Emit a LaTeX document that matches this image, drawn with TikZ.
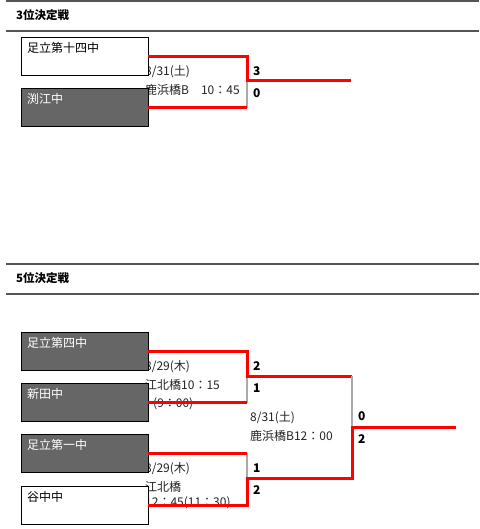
\documentclass[tikz,border=0pt]{standalone}
\usepackage{fontspec}
\setmainfont{Noto Sans CJK JP}
\usetikzlibrary{positioning}
\definecolor{boxgray}{RGB}{102,102,102}
\definecolor{rulegray}{RGB}{85,85,85}
\definecolor{losegray}{RGB}{170,170,170}
\definecolor{infotext}{RGB}{34,34,34}

\begin{document}
\begin{tikzpicture}[
    x=1pt, y=-1pt,
    node distance=13pt,
    team/.style={rectangle, draw, anchor=north west, minimum width=127pt, text width=115pt,
        inner xsep=6pt, inner ysep=3pt, text height=12pt, text depth=20pt, align=left,
        font=\fontsize{12pt}{14pt}\selectfont},
    lost/.style={team, fill=white},
    won/.style={team, fill=boxgray, text=white},
    info/.style={anchor=west, inner sep=0pt, text=infotext, font=\fontsize{12pt}{14pt}\selectfont},
    score/.style={anchor=west, inner sep=0pt, font=\bfseries\fontsize{12pt}{14pt}\selectfont},
    title/.style={anchor=west, inner sep=0pt, font=\bfseries\fontsize{11.5pt}{13pt}\selectfont},
    headline/.style={draw=rulegray, line width=2pt},
    winline/.style={draw=red, line width=3pt},
    loseline/.style={draw=losegray, line width=2pt}
]
    \useasboundingbox (0,0) rectangle (479,529);

    % headings
    \draw[headline] (6,1) -- (479,1);
    \draw[headline] (6,31.5) -- (479,31.5);
    \node[title] (h3) at (16,15) {3位決定戦};
    \draw[headline] (6,264) -- (479,264);
    \draw[headline] (6,293.5) -- (479,293.5);
    \node[title] (h5) at (16,278) {5位決定戦};

    % match info (partly under the boxes)
    \node[info] (d1) at (145,72) {8/31(土)};
    \node[info] (p1) at (145,90) {鹿浜橋B　10：45};
    \node[info] (d2) at (145,367) {8/29(木)};
    \node[info] (p2) at (145,385) {江北橋10：15};
    \node[info] (s2) at (153,404) {(9：00)};
    \node[info] (d3) at (145,469) {8/29(木)};
    \node[info] (p3) at (145,487) {江北橋};
    \node[info] (s3) at (145,503) {12：45(11：30)};
    \node[info] (d4) at (250,418) {8/31(土)};
    \node[info] (p4) at (250,436) {鹿浜橋B12：00};

    % teams
    \node[lost] (t1) at (21,37) {足立第十四中};
    \node[won, below=of t1] (t2) {渕江中};
    \node[won] (t3) at (21,332) {足立第四中};
    \node[won, below=of t3] (t4) {新田中};
    \node[won, below=12pt of t4] (t5) {足立第一中};
    \node[lost, below=14pt of t5] (t6) {谷中中};

    % joints
    \coordinate (m1) at (247,81);
    \coordinate (w1) at (351,81);
    \coordinate (m2) at (247,376);
    \coordinate (m3) at (247,478);
    \coordinate (m4) at (352,427);
    \coordinate (w2) at (456,427);

    % 3rd place
    \draw[loseline] (t2.east -| m1) -- (m1);
    \draw[winline] (t2.east) -- (t2.east -| m1);
    \draw[winline] (t1.east) -| (m1) -- (w1);

    % 5th place
    \draw[loseline] (t4.east -| m2) -- (m2);
    \draw[winline] (t4.east) -- (t4.east -| m2);
    \draw[winline] (t3.east) -| (m2) -- (m2 -| m4);
    \draw[loseline] (t5.east -| m3) -- (m3);
    \draw[winline] (t5.east) -- (t5.east -| m3);
    \draw[loseline] (m2 -| m4) -- (m4);
    \draw[winline] (t6.east) -| (m3) -- (m3 -| m4) -- (m4) -- (w2);

    % scores
    \node[score] (r1) at (253,71) {3};
    \node[score] (r2) at (253,93) {0};
    \node[score] (r3) at (253,366) {2};
    \node[score] (r4) at (253,388) {1};
    \node[score] (r5) at (253,468) {1};
    \node[score] (r6) at (253,490) {2};
    \node[score] (r7) at (358,416) {0};
    \node[score] (r8) at (358,439) {2};
\end{tikzpicture}
\end{document}
